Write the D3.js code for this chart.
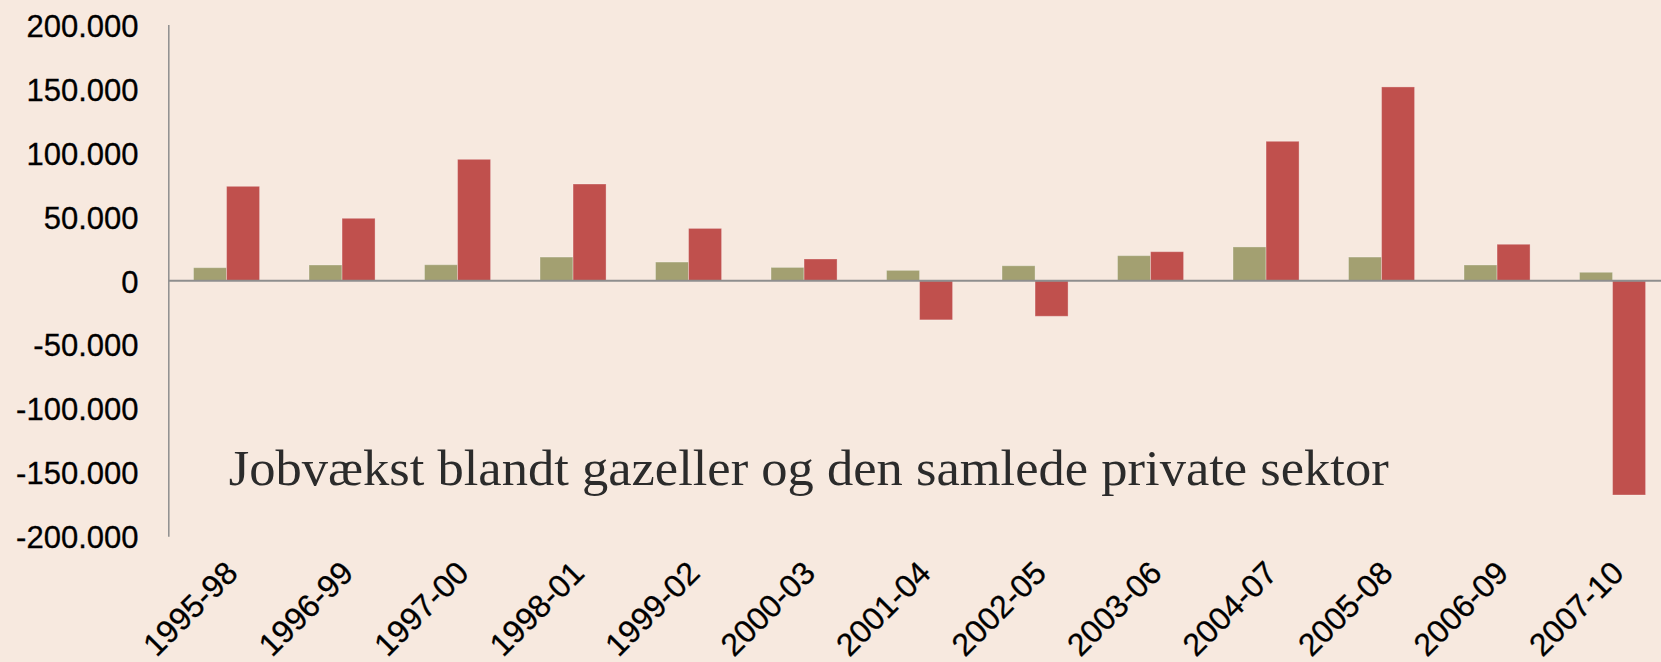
<!DOCTYPE html>
<html>
<head>
<meta charset="utf-8">
<script src="https://cdn.jsdelivr.net/npm/d3@7"></script>
<style>
  html, body { margin: 0; padding: 0; background: #F7E9DF; }
  svg { display: block; }
</style>
</head>
<body>
<svg id="chart" width="1661" height="662"></svg>
<script>
// Job growth, three-year periods
const periods = ["1995-98","1996-99","1997-00","1998-01","1999-02","2000-03","2001-04",
                 "2002-05","2003-06","2004-07","2005-08","2006-09","2007-10"];
const gazeller = [10300, 12400, 12600, 18600, 14700, 10500, 8200, 11800, 19700, 26500, 18600, 12400, 6700];
const privatSektor = [73900, 48900, 95000, 75700, 41000, 17100, -30500, -27700, 22800, 109100, 151600, 28600, -167400];
const yTicks = [200000, 150000, 100000, 50000, 0, -50000, -100000, -150000, -200000];
const seriesKeys = ["gazeller", "privat"];
const seriesColors = { gazeller: "#A3A071", privat: "#C0504D" };
const caption = "Jobvækst blandt gazeller og den samlede private sektor";

const rows = periods.map((p, i) => ({ period: p, gazeller: gazeller[i], privat: privatSektor[i] }));

const svg = d3.select("#chart");
const W = 1661, H = 662;
svg.append("rect").attr("width", W).attr("height", H).attr("fill", "#F7E9DF");

const axisX = 168.8;
const y = d3.scaleLinear().domain([-200000, 200000]).range([536.7, 25]);
const x0 = d3.scaleBand().domain(periods).range([axisX, axisX + 13 * 115.5])
  .paddingInner(0.428).paddingOuter(0.214);
const x1 = d3.scaleBand().domain(seriesKeys).range([0, x0.bandwidth()]);

// Danish number format: dot as thousands separator
const fmt = d3.formatLocale({ decimal: ",", thousands: ".", grouping: [3], currency: ["", " kr"] }).format(",d");

// Y axis labels
const yAxis = d3.axisLeft(y).tickValues(yTicks).tickFormat(v => fmt(v).replace("\u2212", "-")).tickSize(0).tickPadding(0);
const gy = svg.append("g").attr("transform", `translate(138.5,0)`).call(yAxis);
gy.select(".domain").remove();
gy.selectAll("text")
  .attr("font-family", "'Liberation Sans', Arial, Helvetica, sans-serif")
  .attr("font-size", 31)
  .attr("fill", "#000")
  .attr("stroke", "#000").attr("stroke-width", 0.3)
  .attr("dy", "0.36em");

// Bars
const groups = svg.append("g").selectAll("g").data(rows).join("g")
  .attr("transform", d => `translate(${x0(d.period)},0)`);
groups.selectAll("rect")
  .data(d => seriesKeys.map(k => ({ key: k, value: d[k] })))
  .join("rect")
  .attr("x", d => x1(d.key))
  .attr("width", x1.bandwidth())
  .attr("y", d => y(Math.max(0, d.value)))
  .attr("height", d => Math.abs(y(d.value) - y(0)))
  .attr("fill", d => seriesColors[d.key])
  .attr("stroke", "rgba(255,255,255,0.3)")
  .attr("stroke-width", 1);

// Vertical axis line
svg.append("line")
  .attr("x1", axisX).attr("x2", axisX)
  .attr("y1", y(200000)).attr("y2", y(-200000))
  .attr("stroke", "#8E8E8E").attr("stroke-width", 1.5);

// Zero line
svg.append("line")
  .attr("x1", axisX).attr("x2", W)
  .attr("y1", y(0)).attr("y2", y(0))
  .attr("stroke", "#8E8E8E").attr("stroke-width", 2);

// Category labels, rotated
const xAxis = d3.axisBottom(x0).tickSize(0).tickPadding(0);
const gx = svg.append("g").call(xAxis);
gx.select(".domain").remove();
gx.selectAll(".tick").attr("transform", d => `translate(${x0(d) + x0.bandwidth() / 2 + 13},575)`);
gx.selectAll("text")
  .attr("y", 0).attr("dy", 0)
  .attr("transform", "rotate(-45)")
  .attr("text-anchor", "end")
  .attr("font-family", "'Liberation Sans', Arial, Helvetica, sans-serif")
  .attr("font-size", 32)
  .attr("fill", "#000")
  .attr("stroke", "#000").attr("stroke-width", 0.3);

// Caption inside the plot
svg.append("text")
  .attr("x", 228.7).attr("y", 485)
  .attr("font-family", "'Liberation Serif', 'DejaVu Serif', serif")
  .attr("font-size", 50)
  .attr("fill", "#2B2B2B")
  .attr("textLength", 1160)
  .attr("lengthAdjust", "spacingAndGlyphs")
  .text(caption);
</script>
</body>
</html>
